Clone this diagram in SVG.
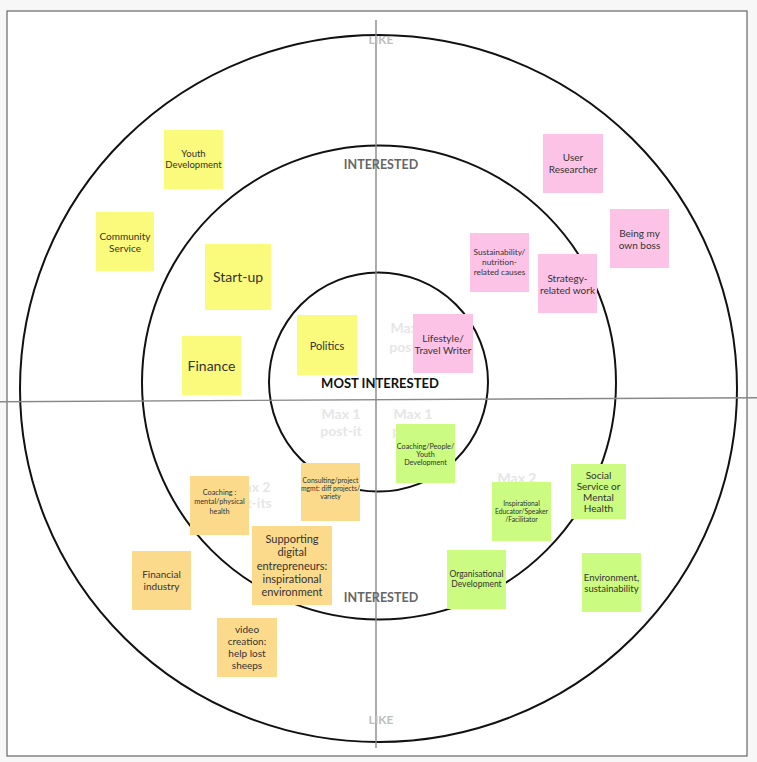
<svg xmlns="http://www.w3.org/2000/svg" width="757" height="762" viewBox="0 0 757 762">
<style>
.ring{fill:none;stroke:#111;stroke-width:2}
.axis{stroke:#888;stroke-width:1.4}
.lbl{font-family:Lato,"Liberation Sans",sans-serif;font-weight:bold;text-anchor:middle}
.like{fill:#bdbdbd;font-size:12px}
.int{fill:#666;font-size:12.5px}
.max{fill:#e6e6e6;font-size:14px}
.t{font-family:Lato,"Liberation Sans",sans-serif;fill:#333;text-anchor:middle}
.y{fill:#fafa7c}
.p{fill:#fdc3e7}
.o{fill:#fcda8b}
.g{fill:#cbfb80}
</style>
<rect x="0" y="0" width="757" height="762" fill="#f7f7f7"/>
<rect x="7" y="11" width="740" height="745" fill="#fff" stroke="#666" stroke-width="1.2"/>
<g id="rings">
<ellipse class="ring" cx="378.5" cy="388.5" rx="358.5" ry="353.5"/>
<circle class="ring" cx="379" cy="382.5" r="237"/>
<circle class="ring" cx="378.5" cy="382" r="109.5"/>
</g>
<g id="labels">
<text class="lbl max" x="410" y="333">Max 1</text>
<text class="lbl max" x="410" y="352">post-it</text>
<text class="lbl max" x="341" y="419">Max 1</text>
<text class="lbl max" x="341" y="436">post-it</text>
<text class="lbl max" x="413" y="419">Max 1</text>
<text class="lbl max" x="413" y="436">post-it</text>
<text class="lbl max" x="517" y="483">Max 2</text>
<text class="lbl max" x="517" y="500">post-its</text>
<text class="lbl max" x="251" y="492">Max 2</text>
<text class="lbl max" x="248" y="508">post-its</text>
</g>
<g id="axes">
<line class="axis" x1="376" y1="20" x2="376" y2="748"/>
<line class="axis" x1="0" y1="401.8" x2="757" y2="397.7"/>
</g>
<g id="ring-labels">
<text class="lbl like" x="381" y="44">LIKE</text>
<text class="lbl like" x="381" y="724">LIKE</text>
<text class="lbl int" x="381" y="169">INTERESTED</text>
<text class="lbl int" x="381" y="602">INTERESTED</text>
<text class="lbl" x="380" y="388" font-size="13" fill="#111">MOST INTERESTED</text>
</g>
<g id="youth-development"><rect class="y" x="164" y="130" width="59" height="59"/><text class="t" font-size="9.5"><tspan x="193.5" y="157">Youth</tspan><tspan x="193.5" y="168">Development</tspan></text></g>
<g id="community-service"><rect class="y" x="96" y="212" width="58" height="59"/><text class="t" font-size="10"><tspan x="125" y="239.5">Community</tspan><tspan x="125" y="251.5">Service</tspan></text></g>
<g id="start-up"><rect class="y" x="205" y="244" width="66" height="66"/><text class="t" font-size="14" x="238" y="282" fill="#222">Start-up</text></g>
<g id="finance"><rect class="y" x="182" y="336" width="59" height="59"/><text class="t" font-size="14" x="211.5" y="371" fill="#222">Finance</text></g>
<g id="politics"><rect class="y" x="297" y="315" width="60" height="60"/><text class="t" font-size="11" x="327" y="350">Politics</text></g>
<g id="user-researcher"><rect class="p" x="543" y="134" width="60" height="59"/><text class="t" font-size="10"><tspan x="573" y="160.5">User</tspan><tspan x="573" y="172.5">Researcher</tspan></text></g>
<g id="own-boss"><rect class="p" x="610" y="209" width="59" height="59"/><text class="t" font-size="10"><tspan x="639.5" y="236.5">Being my</tspan><tspan x="639.5" y="248.5">own boss</tspan></text></g>
<g id="sustainability"><rect class="p" x="470" y="233" width="59" height="59"/><text class="t" font-size="8.3"><tspan x="499.5" y="255">Sustainability/</tspan><tspan x="499.5" y="265">nutrition-</tspan><tspan x="499.5" y="275">related causes</tspan></text></g>
<g id="strategy"><rect class="p" x="538" y="254" width="59" height="59"/><text class="t" font-size="10"><tspan x="567.5" y="281.5">Strategy-</tspan><tspan x="567.5" y="293.5">related work</tspan></text></g>
<g id="lifestyle"><rect class="p" x="413" y="314" width="60" height="59"/><text class="t" font-size="10"><tspan x="443" y="341.5">Lifestyle/</tspan><tspan x="443" y="353.5">Travel Writer</tspan></text></g>
<g id="consulting"><rect class="o" x="301" y="463" width="59" height="58"/><text class="t" font-size="6.8"><tspan x="330.5" y="482.5">Consulting/project</tspan><tspan x="330.5" y="490.5">mgmt: diff projects/</tspan><tspan x="330.5" y="498.5">variety</tspan></text></g>
<g id="coaching-health"><rect class="o" x="190" y="476" width="59" height="59"/><text class="t" font-size="7.3"><tspan x="219.5" y="494.5">Coaching :</tspan><tspan x="219.5" y="504">mental/physical</tspan><tspan x="219.5" y="513.5">health</tspan></text></g>
<g id="supporting"><rect class="o" x="252" y="526" width="80" height="79"/><text class="t" font-size="11"><tspan x="292" y="543">Supporting</tspan><tspan x="292" y="556.3">digital</tspan><tspan x="292" y="569.6">entrepreneurs:</tspan><tspan x="292" y="582.9">inspirational</tspan><tspan x="292" y="596.2">environment</tspan></text></g>
<g id="financial-industry"><rect class="o" x="132" y="551" width="59" height="59"/><text class="t" font-size="10"><tspan x="161.5" y="577.5">Financial</tspan><tspan x="161.5" y="590">industry</tspan></text></g>
<g id="video-creation"><rect class="o" x="217" y="618" width="60" height="59"/><text class="t" font-size="10"><tspan x="247" y="632.5">video</tspan><tspan x="247" y="644.5">creation:</tspan><tspan x="247" y="656.5">help lost</tspan><tspan x="247" y="668.5">sheeps</tspan></text></g>
<g id="coaching-people"><rect class="g" x="396" y="424" width="59" height="59"/><text class="t" font-size="7.2"><tspan x="425.5" y="448.5">Coaching/People/</tspan><tspan x="425.5" y="456.5">Youth</tspan><tspan x="425.5" y="464.5">Development</tspan></text></g>
<g id="inspirational"><rect class="g" x="492" y="482" width="59" height="59"/><text class="t" font-size="6.8"><tspan x="521.5" y="505.5">Inspirational</tspan><tspan x="521.5" y="513.5">Educator/Speaker</tspan><tspan x="521.5" y="521.5">/Facilitator</tspan></text></g>
<g id="social-service"><rect class="g" x="571" y="464" width="55" height="55"/><text class="t" font-size="10"><tspan x="598.5" y="478.5">Social</tspan><tspan x="598.5" y="489.5">Service or</tspan><tspan x="598.5" y="500.5">Mental</tspan><tspan x="598.5" y="511.5">Health</tspan></text></g>
<g id="organisational"><rect class="g" x="447" y="550" width="59" height="59"/><text class="t" font-size="8.5"><tspan x="476.5" y="577">Organisational</tspan><tspan x="476.5" y="587">Development</tspan></text></g>
<g id="environment"><rect class="g" x="582" y="553" width="59" height="59"/><text class="t" font-size="9.5"><tspan x="611.5" y="580.5">Environment,</tspan><tspan x="611.5" y="591.5">sustainability</tspan></text></g>
</svg>
